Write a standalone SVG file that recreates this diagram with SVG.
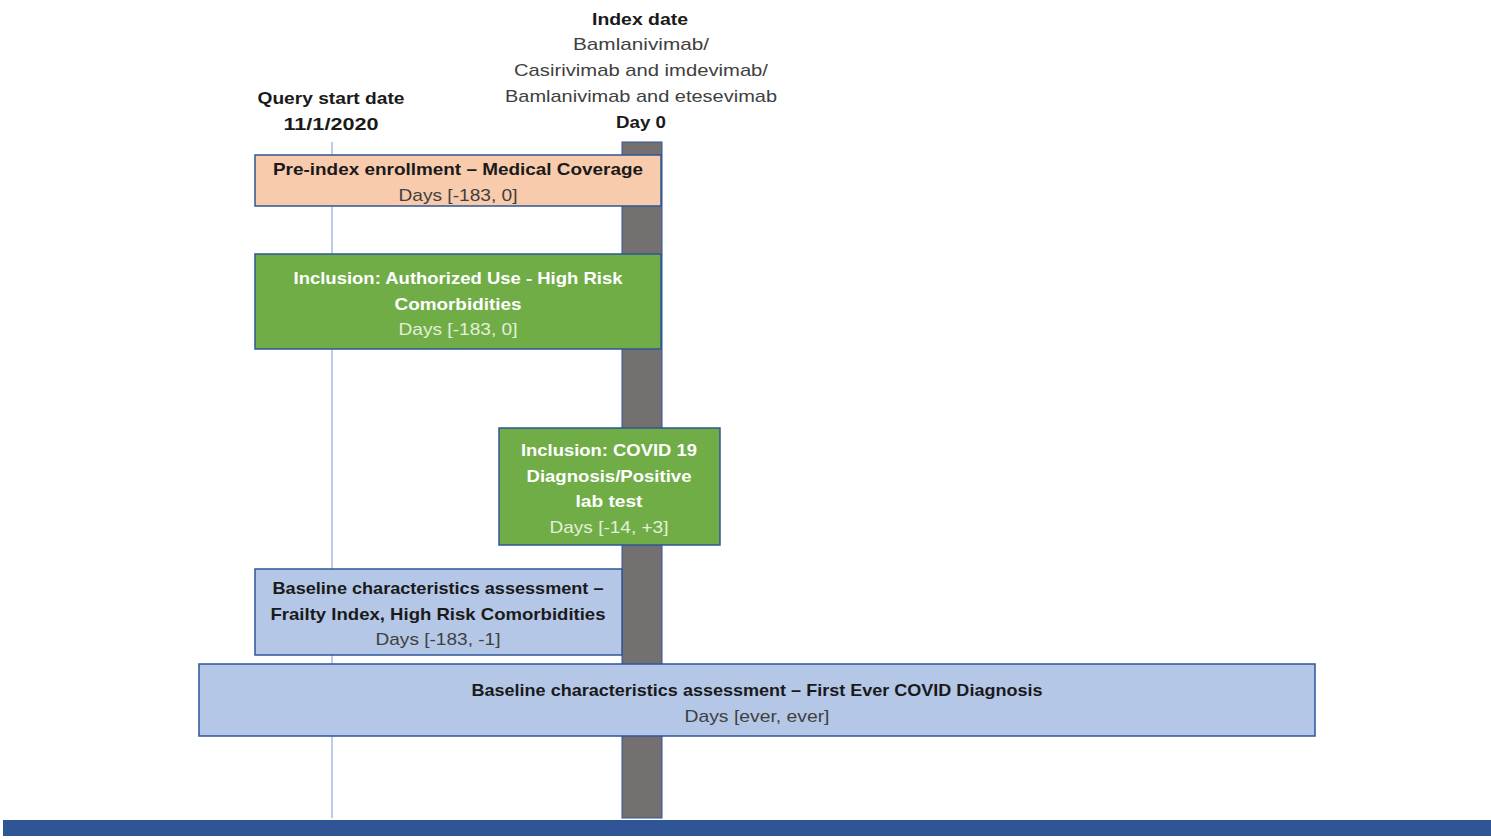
<svg xmlns="http://www.w3.org/2000/svg" width="1491" height="839" viewBox="0 0 1491 839">
<style>
text{font-family:"Liberation Sans",Arial,sans-serif;font-size:17px;text-anchor:middle}
.b{font-weight:bold;fill:#1a1a1a}
.r{fill:#404040}
.w{font-weight:bold;fill:#ffffff}
.lw{fill:#e2f0d9}
.box{stroke:#2f5597;stroke-width:1.5}
</style>
<rect width="1491" height="839" fill="#ffffff"/>
<g id="axes">
<line x1="332" y1="142" x2="332" y2="818" stroke="#8faadc" stroke-width="1.2"/>
<rect x="622" y="142" width="40" height="676" fill="#757070" stroke="#2f5597" stroke-width="1"/>
<rect x="3" y="820" width="1488" height="16" fill="#2f5597"/>
</g>
<g id="index-label">
<text class="b" x="640" y="25" textLength="96" lengthAdjust="spacingAndGlyphs">Index date</text>
<text class="r" x="641" y="50" textLength="136" lengthAdjust="spacingAndGlyphs">Bamlanivimab/</text>
<text class="r" x="641" y="76" textLength="254" lengthAdjust="spacingAndGlyphs">Casirivimab and imdevimab/</text>
<text class="r" x="641" y="102" textLength="272" lengthAdjust="spacingAndGlyphs">Bamlanivimab and etesevimab</text>
<text class="b" x="641" y="128" textLength="50" lengthAdjust="spacingAndGlyphs">Day 0</text>
</g>
<g id="query-label">
<text class="b" x="331" y="104" textLength="147" lengthAdjust="spacingAndGlyphs">Query start date</text>
<text class="b" x="331" y="130" textLength="95" lengthAdjust="spacingAndGlyphs">11/1/2020</text>
</g>
<g id="pre-index">
<rect class="box" x="255" y="155" width="406" height="51" fill="#f8cbad" stroke="#4472c4"/>
<text class="b" x="458" y="175" textLength="370" lengthAdjust="spacingAndGlyphs">Pre-index enrollment – Medical Coverage</text>
<text class="r" x="458" y="201" textLength="119" lengthAdjust="spacingAndGlyphs">Days [-183, 0]</text>
</g>
<g id="inclusion-authorized">
<rect class="box" x="255" y="254" width="406" height="95" fill="#70ad47"/>
<text class="w" x="458" y="284" textLength="329" lengthAdjust="spacingAndGlyphs">Inclusion: Authorized Use - High Risk</text>
<text class="w" x="458" y="310" textLength="127" lengthAdjust="spacingAndGlyphs">Comorbidities</text>
<text class="lw" x="458" y="335" textLength="119" lengthAdjust="spacingAndGlyphs">Days [-183, 0]</text>
</g>
<g id="inclusion-covid">
<rect class="box" x="499" y="428" width="221" height="117" fill="#70ad47"/>
<text class="w" x="609" y="456" textLength="176" lengthAdjust="spacingAndGlyphs">Inclusion: COVID 19</text>
<text class="w" x="609" y="482" textLength="165" lengthAdjust="spacingAndGlyphs">Diagnosis/Positive</text>
<text class="w" x="609" y="507" textLength="67" lengthAdjust="spacingAndGlyphs">lab test</text>
<text class="lw" x="609" y="533" textLength="119" lengthAdjust="spacingAndGlyphs">Days [-14, +3]</text>
</g>
<g id="baseline-frailty">
<rect class="box" x="255" y="569" width="367" height="86" fill="#b4c7e7"/>
<text class="b" x="438" y="594" textLength="331" lengthAdjust="spacingAndGlyphs">Baseline characteristics assessment –</text>
<text class="b" x="438" y="620" textLength="335" lengthAdjust="spacingAndGlyphs">Frailty Index, High Risk Comorbidities</text>
<text class="r" x="438" y="645" textLength="125" lengthAdjust="spacingAndGlyphs">Days [-183, -1]</text>
</g>
<g id="baseline-covid">
<rect class="box" x="199" y="664" width="1116" height="72" fill="#b4c7e7"/>
<text class="b" x="757" y="696" textLength="571" lengthAdjust="spacingAndGlyphs">Baseline characteristics assessment – First Ever COVID Diagnosis</text>
<text class="r" x="757" y="722" textLength="145" lengthAdjust="spacingAndGlyphs">Days [ever, ever]</text>
</g>
<g id="connectors"></g>
</svg>
